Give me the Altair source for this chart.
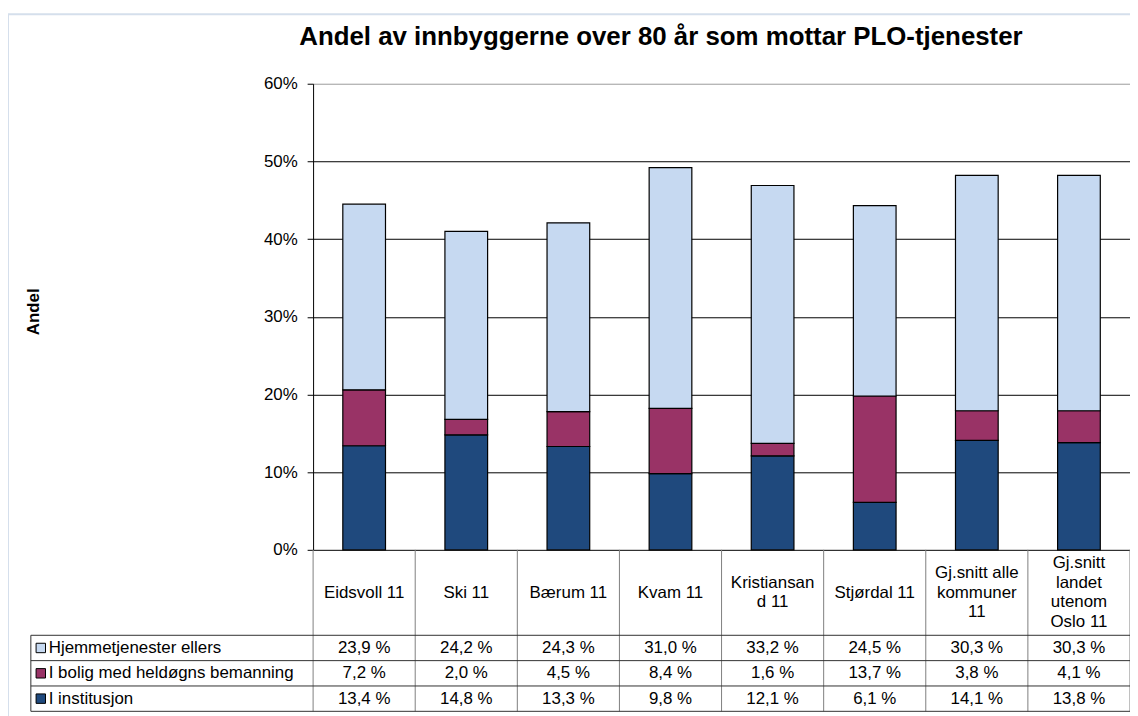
import altair as alt
import pandas as pd

# ---------------- data ----------------
categories = ["Eidsvoll 11", "Ski 11", "Bærum 11", "Kvam 11", "Kristiansand 11",
              "Stjørdal 11", "Gj.snitt alle kommuner 11", "Gj.snitt landet utenom Oslo 11"]
category_labels = ["Eidsvoll 11", "Ski 11", "Bærum 11", "Kvam 11", "Kristiansan\nd 11",
                   "Stjørdal 11", "Gj.snitt alle\nkommuner\n11", "Gj.snitt\nlandet\nutenom\nOslo 11"]
series = ["I institusjon", "I bolig med heldøgns bemanning", "Hjemmetjenester ellers"]
institusjon = [13.4, 14.8, 13.3, 9.8, 12.1, 6.1, 14.1, 13.8]
bolig = [7.2, 2.0, 4.5, 8.4, 1.6, 13.7, 3.8, 4.1]
hjemme = [23.9, 24.2, 24.3, 31.0, 33.2, 24.5, 30.3, 30.3]
y_ticks = [0, 10, 20, 30, 40, 50, 60]
title_text = "Andel av innbyggerne over 80 år som mottar PLO-tjenester"
y_title = "Andel"

colors = ["#1F497D", "#993366", "#C6D9F1"]

rows = []
for si, (name, vals) in enumerate(zip(series, [institusjon, bolig, hjemme])):
    for c, lab, v in zip(categories, category_labels, vals):
        rows.append({"cat": c, "label": lab, "series": name, "value": v, "order": si})
df = pd.DataFrame(rows)
cat_df = pd.DataFrame({"cat": categories, "label": category_labels})
cat_df["nlines"] = cat_df["label"].str.count("\n") + 1
one = pd.DataFrame({"t": [title_text]})

# ---------------- layout constants (pixels, relative to plot area) ----------------
W, H = 822, 469
FONT = "Liberation Sans"
LH = 19.5
row_lines = [555, 580.5, 606, 631.5]
row_centers = {"Hjemmetjenester ellers": 567.75,
               "I bolig med heldøgns bemanning": 593.25,
               "I institusjon": 618.75}
legend_left = -284

xscale = alt.Scale(domain=categories, paddingInner=0, paddingOuter=0)
color_scale = alt.Scale(domain=series, range=colors)

frame = alt.Chart(one).mark_rect(fill="white", fillOpacity=0, stroke="#D5DFEC", strokeWidth=2).encode(
    x=alt.value(-307), x2=alt.value(W + 40), y=alt.value(-70), y2=alt.value(H + 200)
)

bars = alt.Chart(df).mark_bar(width=alt.RelativeBandSize(0.418), stroke="black", strokeWidth=1.2).encode(
    x=alt.X("cat:N", sort=categories, scale=xscale, axis=None),
    y=alt.Y("value:Q", stack="zero", scale=alt.Scale(domain=[0, 60], nice=False),
            axis=alt.Axis(values=y_ticks, labelExpr="datum.value + '%'", grid=True,
                          gridColor={"condition": {"test": "datum.value >= 60", "value": "#9a9a9a"}, "value": "black"},
                          gridWidth=1, tickSize=6, tickColor="black", domainColor="black",
                          labelFont=FONT, labelFontSize=17, labelColor="black", labelPadding=10,
                          title=y_title, titleFont=FONT, titleFontSize=17, titleFontWeight="bold",
                          titleColor="black", titleX=-281, titleY=229, titleAngle=270,
                          titleBaseline="middle", titleAlign="center")),
    color=alt.Color("series:N", scale=color_scale, legend=None),
    order=alt.Order("order:Q"),
)

# vertical column borders in the table
vlines = alt.Chart(cat_df).mark_rule(color="#7f7f7f", strokeWidth=1).encode(
    x=alt.X("cat:N", sort=categories, scale=xscale, bandPosition=0),
    y=alt.value(H), y2=alt.value(row_lines[-1]),
)
vline_last = alt.Chart(cat_df.tail(1)).mark_rule(color="#7f7f7f", strokeWidth=1).encode(
    x=alt.X("cat:N", sort=categories, scale=xscale, bandPosition=1),
    y=alt.value(H), y2=alt.value(row_lines[-1]),
)

hlayers = []
for yv in row_lines:
    hlayers.append(alt.Chart(one).mark_rule(color="#303030", strokeWidth=1).encode(
        x=alt.value(legend_left), x2=alt.value(W), y=alt.value(yv)))
leg_border = alt.Chart(one).mark_rule(color="#303030", strokeWidth=1).encode(
    x=alt.value(legend_left), y=alt.value(row_lines[0]), y2=alt.value(row_lines[-1]))

# category label cells (multi-line, vertically centred in the cell)
cell_center = (H + row_lines[0]) / 2
cat_layers = []
for n in sorted(cat_df["nlines"].unique()):
    sub = cat_df[cat_df["nlines"] == n]
    cat_layers.append(
        alt.Chart(sub).mark_text(font=FONT, fontSize=17, lineBreak="\n", lineHeight=LH,
                                 baseline="middle", align="center", color="black").encode(
            x=alt.X("cat:N", sort=categories, scale=xscale),
            y=alt.value(cell_center - (n - 1) * LH / 2),
            text="label:N",
        )
    )

table_layers = []
for name in ["Hjemmetjenester ellers", "I bolig med heldøgns bemanning", "I institusjon"]:
    sub = df[df.series == name]
    yc = row_centers[name]
    table_layers.append(
        alt.Chart(sub).transform_calculate(
            txt="replace(format(datum.value, '.1f'), '.', ',') + ' %'"
        ).mark_text(font=FONT, fontSize=17, baseline="middle", align="center", color="black").encode(
            x=alt.X("cat:N", sort=categories, scale=xscale),
            y=alt.value(yc),
            text="txt:N",
        )
    )
    sdf = pd.DataFrame({"series": [name]})
    table_layers.append(
        alt.Chart(sdf).mark_square(size=90, stroke="black", strokeWidth=1, opacity=1, filled=True).encode(
            x=alt.value(legend_left + 10), y=alt.value(yc),
            color=alt.Color("series:N", scale=color_scale, legend=None),
        )
    )
    table_layers.append(
        alt.Chart(sdf).mark_text(font=FONT, fontSize=17, baseline="middle", align="left", color="black").encode(
            x=alt.value(legend_left + 18), y=alt.value(yc), text="series:N",
        )
    )

title = alt.Chart(one).mark_text(font=FONT, fontSize=26, fontWeight="bold", align="center",
                                 baseline="alphabetic", color="black").encode(
    x=alt.value(350), y=alt.value(-39), text="t:N")

chart = alt.layer(frame, bars, vlines, vline_last, *hlayers, leg_border, *cat_layers, *table_layers, title).properties(
    width=W, height=H,
    autosize=alt.AutoSizeParams(type="none"),
    padding={"left": 307, "top": 74, "right": 0, "bottom": 165},
    background="white",
).configure_view(stroke=None)

chart.save("out.html", embed_options={"renderer": "svg", "actions": False})
